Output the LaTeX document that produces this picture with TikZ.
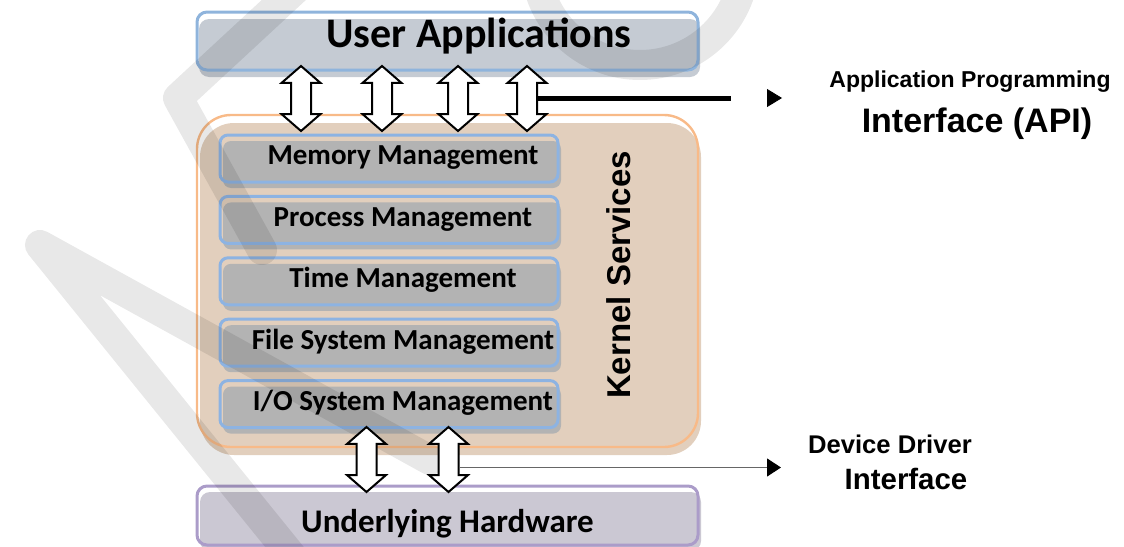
\documentclass[tikz,border=0pt]{standalone}
\usepackage{fontspec}
\setmainfont{Carlito}
\newfontfamily\labelfont{Liberation Sans}
\usetikzlibrary{shapes.arrows,shadows,arrows.meta,positioning}

\definecolor{appfill}{HTML}{C5CBD3}
\definecolor{appline}{HTML}{8FB4DC}
\definecolor{kernfill}{HTML}{E2CFBD}
\definecolor{kernline}{HTML}{F8BA88}
\definecolor{svcfill}{HTML}{B3B3B3}
\definecolor{svcline}{HTML}{8DB3E2}
\definecolor{hwfill}{HTML}{CBC8D3}
\definecolor{hwline}{HTML}{AB9CC9}

\tikzset{
  layer/.style={draw, rounded corners=5pt, line width=1.5pt, minimum width=250.5pt,
    minimum height=29pt, text height=0.64em, text depth=0pt},
  svc/.style={draw=svcline, rounded corners=4pt, line width=1.5pt, minimum width=169pt,
    minimum height=23.5pt, inner xsep=0pt, text height=0.64em, text depth=0pt,
    general shadow={fill=svcfill, shadow xshift=1.5pt, shadow yshift=-3pt},
    font=\bfseries\fontsize{14.5}{17}\selectfont},
  updown/.style={double arrow, draw, fill=white, line width=1pt, minimum height=32.5pt,
    minimum width=18.5pt, inner xsep=0pt, inner ysep=4.5pt,
    double arrow head extend=4.75pt, double arrow tip angle=98, rotate=90},
  wmark/.style={line width=15pt, line cap=round, line join=round, black, opacity=0.09},
  sidelabel/.style={anchor=base, inner sep=0pt}
}

\begin{document}
\begin{tikzpicture}[x=0.5pt,y=-0.5pt]
  \useasboundingbox (0,0) rectangle (1124,546);

  % kernel
  \node[draw=kernline, line width=1.2pt, rounded corners=17pt, minimum width=250.5pt,
    minimum height=166pt, general shadow={fill=kernfill, shadow xshift=1.5pt, shadow yshift=-4pt}]
    (kern) at (447.5,281) {};
  \node[rotate=90, font=\labelfont\bfseries\fontsize{16.5}{20}\selectfont] (kerntxt) at (619,275) {Kernel Services};

  \foreach \name/\txt [count=\i from 0] in {mem/Memory Management, proc/Process Management,
      time/Time Management, file/File System Management, io/{I/O System Management}}
    \node[svc] (\name) at (389,158.5+61.4*\i) {\hspace*{14pt}\txt};

  % top and bottom layers
  \node[layer, draw=appline, general shadow={fill=appfill, shadow xshift=1pt, shadow yshift=-3.5pt},
    font=\bfseries\fontsize{21}{24}\selectfont] (user) at (447.5,41) {\hspace*{31.5pt}User Applications};
  \node[layer, draw=hwline, minimum height=29.5pt, text height=16.6pt,
    general shadow={fill=hwfill, shadow xshift=1.5pt, shadow yshift=-3pt},
    font=\bfseries\fontsize{16.5}{20}\selectfont] (hw) at (447.5,515.5) {Underlying Hardware};

  % watermark
  \draw[wmark] (295,560) -- (40,245) -- (430,460);
  \draw[wmark] (300,-15) -- (178,98) -- (262,250);
  \draw[wmark] (745,-40) arc[start angle=0, end angle=160, radius=105];

  % arrows
  \foreach \x [count=\i] in {301,382,458,527}
    \node[updown] (a\i) at (\x,98.5) {};
  \foreach \x [count=\i] in {366.5,448.5}
    \node[updown] (d\i) at (\x,459.5) {};

  \coordinate (apiEnd) at (731,99);
  \coordinate (apiTip) at (782,98);
  \coordinate (ddTip) at (781,467.5);
  \draw[line width=2.3pt] (a4.south) -- (a4.south -| apiEnd);
  \draw[-{Triangle[length=7.5pt,width=9pt]}] ([xshift=-7.5pt]apiTip) -- (apiTip);
  \draw[black!60, line width=0.6pt, -{Triangle[length=7pt,width=9pt,color=black]}]
    ([yshift=-4pt]d2.south) -- (ddTip);

  \node[sidelabel, font=\labelfont\bfseries\fontsize{11.5}{14}\selectfont] (api) at (970,87) {Application Programming};
  \node[sidelabel, font=\labelfont\bfseries\fontsize{17}{20}\selectfont] (apiL2) at (977,132) {Interface (API)};
  \node[sidelabel, font=\labelfont\bfseries\fontsize{12.8}{15}\selectfont] (dd) at (890,453) {Device Driver};
  \node[sidelabel, font=\labelfont\bfseries\fontsize{14.7}{17}\selectfont] (ddL2) at (906,489) {Interface};
\end{tikzpicture}
\end{document}
